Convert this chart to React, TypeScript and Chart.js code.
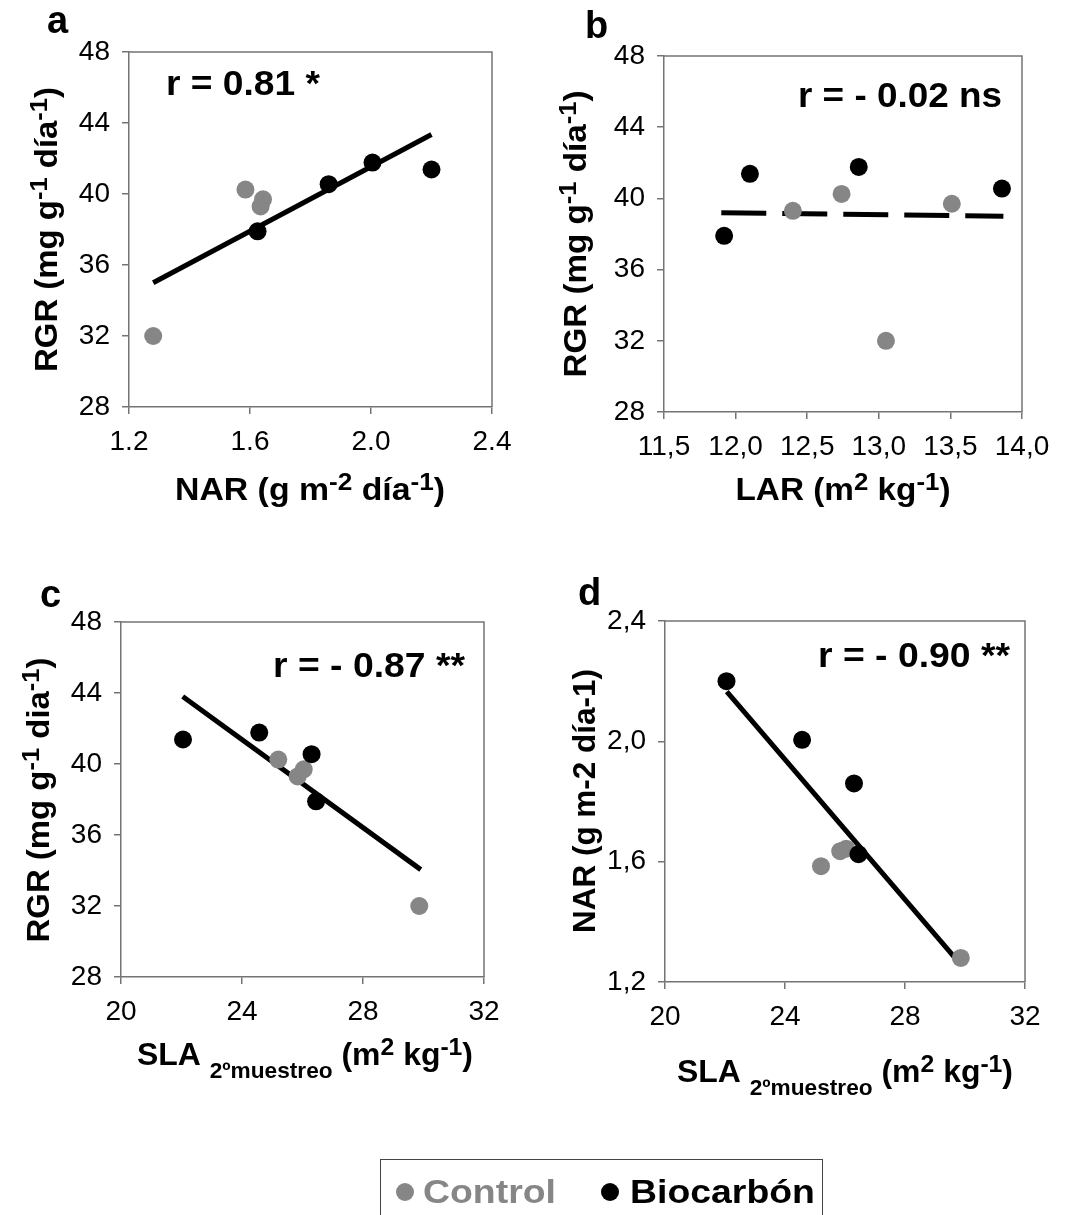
import React, { useEffect, useRef } from 'react';
import { Chart, registerables } from 'chart.js';

Chart.register(...registerables);

// ---------------- DATA ----------------
const seriesNames = ['Control', 'Biocarbón'];

// Control samples (same order in every array)
const ctrlRGR = [32.0, 40.25, 39.7, 39.3];
const ctrlNAR = [1.28, 1.585, 1.643, 1.635];
const ctrlLAR = [13.05, 12.74, 13.51, 12.4];
const ctrlSLA = [29.86, 25.2, 26.04, 25.84];

// Biocarbón samples (same order in every array)
const bioRGR = [37.9, 40.55, 41.77, 41.38];
const bioNAR = [1.625, 1.86, 2.005, 2.2];
const bioLAR = [11.92, 13.86, 12.86, 12.1];
const bioSLA = [26.45, 26.3, 24.57, 22.05];

// Fitted lines (end points)
const trendAx = [1.28, 2.2];
const trendAy = [35.0, 43.35];
const trendBx = [11.9, 13.87];
const trendBy = [39.2, 39.0];
const trendCx = [22.04, 29.91];
const trendCy = [43.8, 34.05];
const trendDx = [22.06, 29.86];
const trendDy = [2.165, 1.258];

// Tick values
const ticksRGR = [28, 32, 36, 40, 44, 48];
const ticksNARa = [1.2, 1.6, 2.0, 2.4];
const ticksLAR = [11.5, 12.0, 12.5, 13.0, 13.5, 14.0];
const ticksSLA = [20, 24, 28, 32];
const ticksNARd = [1.2, 1.6, 2.0, 2.4];

// Texts
const panelLetters = ['a', 'b', 'c', 'd'];
const corrNotes = ['r = 0.81 *', 'r = - 0.02 ns', 'r = - 0.87 **', 'r = - 0.90 **'];

type Kind = 'n' | 'sup' | 'sub';
type Seg = [string, Kind];

const titleRGR: Seg[] = [['RGR (mg g', 'n'], ['-1', 'sup'], [' día', 'n'], ['-1', 'sup'], [')', 'n']];
const titleRGRc: Seg[] = [['RGR (mg g', 'n'], ['-1', 'sup'], [' dia', 'n'], ['-1', 'sup'], [')', 'n']];
const titleNARa: Seg[] = [['NAR (g m', 'n'], ['-2', 'sup'], [' día', 'n'], ['-1', 'sup'], [')', 'n']];
const titleLAR: Seg[] = [['LAR (m', 'n'], ['2', 'sup'], [' kg', 'n'], ['-1', 'sup'], [')', 'n']];
const titleSLA: Seg[] = [['SLA ', 'n'], ['2ºmuestreo', 'sub'], [' (m', 'n'], ['2', 'sup'], [' kg', 'n'], ['-1', 'sup'], [')', 'n']];
const titleNARd: Seg[] = [['NAR (g m-2 día-1)', 'n']];

// ---------------- STYLE ----------------
const FONT = '"Liberation Sans", Arial, Helvetica, sans-serif';
const GRAY = '#868686';
const AXIS = '#747474';

const fmtDot = (v: number) => v.toFixed(1);
const fmtComma = (v: number) => v.toFixed(1).replace('.', ',');
const fmtInt = (v: number) => String(Math.round(v));

function drawRich(
  ctx: CanvasRenderingContext2D,
  segs: Seg[],
  x: number,
  y: number,
  o: { size: number; width?: number; align?: 'left' | 'center'; rotate?: boolean; color?: string }
) {
  const size = o.size;
  const items = segs.map(([t, k]) => {
    const fs = k === 'n' ? size : Math.round(size * (k === 'sup' ? 0.77 : 0.7));
    const dy = k === 'sup' ? -size * 0.32 : k === 'sub' ? size * 0.42 : 0;
    ctx.font = `bold ${fs}px ${FONT}`;
    return { t, fs, dy, w: ctx.measureText(t).width };
  });
  const natural = items.reduce((s, it) => s + it.w, 0);
  const sx = o.width ? o.width / natural : 1;
  ctx.save();
  ctx.translate(x, y);
  if (o.rotate) ctx.rotate(-Math.PI / 2);
  ctx.scale(sx, 1);
  ctx.fillStyle = o.color || '#000';
  ctx.textAlign = 'left';
  ctx.textBaseline = 'alphabetic';
  let cx = o.align === 'center' ? -natural / 2 : 0;
  for (const it of items) {
    ctx.font = `bold ${it.fs}px ${FONT}`;
    ctx.fillText(it.t, cx, it.dy);
    cx += it.w;
  }
  ctx.restore();
}

interface PanelDef {
  id: string;
  ox: number;
  oy: number;
  w: number;
  h: number;
  area: { l: number; t: number; r: number; b: number };
  xTicks: number[];
  yTicks: number[];
  xFmt: (v: number) => string;
  yFmt: (v: number) => string;
  cX: number[];
  cY: number[];
  bX: number[];
  bY: number[];
  tX: number[];
  tY: number[];
  dashed: boolean;
  letter: string;
  letterPos: [number, number];
  note: string;
  notePos: [number, number, number];
  xTitle: Seg[];
  xTitlePos: [number, number, number];
  yTitle: Seg[];
  yTitlePos: [number, number, number];
}

const PANELS: PanelDef[] = [
  {
    id: 'a', ox: 0, oy: 0, w: 533, h: 560,
    area: { l: 129, t: 52, r: 492, b: 407 },
    xTicks: ticksNARa, yTicks: ticksRGR, xFmt: fmtDot, yFmt: fmtInt,
    cX: ctrlNAR, cY: ctrlRGR, bX: bioNAR, bY: bioRGR, tX: trendAx, tY: trendAy, dashed: false,
    letter: panelLetters[0], letterPos: [47, 33],
    note: corrNotes[0], notePos: [166, 95, 154],
    xTitle: titleNARa, xTitlePos: [310, 500, 270],
    yTitle: titleRGR, yTitlePos: [57, 229.5, 285],
  },
  {
    id: 'b', ox: 533, oy: 0, w: 533, h: 560,
    area: { l: 664, t: 56, r: 1022, b: 412 },
    xTicks: ticksLAR, yTicks: ticksRGR, xFmt: fmtComma, yFmt: fmtInt,
    cX: ctrlLAR, cY: ctrlRGR, bX: bioLAR, bY: bioRGR, tX: trendBx, tY: trendBy, dashed: true,
    letter: panelLetters[1], letterPos: [585, 38],
    note: corrNotes[1], notePos: [798, 107, 204],
    xTitle: titleLAR, xTitlePos: [843, 500, 215],
    yTitle: titleRGR, yTitlePos: [586, 234, 287],
  },
  {
    id: 'c', ox: 0, oy: 560, w: 533, h: 655,
    area: { l: 121, t: 622, r: 484, b: 977 },
    xTicks: ticksSLA, yTicks: ticksRGR, xFmt: fmtInt, yFmt: fmtInt,
    cX: ctrlSLA, cY: ctrlRGR, bX: bioSLA, bY: bioRGR, tX: trendCx, tY: trendCy, dashed: false,
    letter: panelLetters[2], letterPos: [40, 607],
    note: corrNotes[2], notePos: [273, 677, 192],
    xTitle: titleSLA, xTitlePos: [305, 1065, 336],
    yTitle: titleRGRc, yTitlePos: [48.5, 800, 285],
  },
  {
    id: 'd', ox: 533, oy: 560, w: 533, h: 655,
    area: { l: 665, t: 621, r: 1025, b: 982 },
    xTicks: ticksSLA, yTicks: ticksNARd, xFmt: fmtInt, yFmt: fmtComma,
    cX: ctrlSLA, cY: ctrlNAR, bX: bioSLA, bY: bioNAR, tX: trendDx, tY: trendDy, dashed: false,
    letter: panelLetters[3], letterPos: [578, 605],
    note: corrNotes[3], notePos: [818, 667, 192],
    xTitle: titleSLA, xTitlePos: [845, 1082, 336],
    yTitle: titleNARd, yTitlePos: [595, 801, 264],
  },
];

function PanelChart({ def }: { def: PanelDef }) {
  const ref = useRef<HTMLCanvasElement>(null);
  useEffect(() => {
    const canvas = ref.current;
    if (!canvas) return;
    const { ox, oy, w, h, area } = def;
    const deco = {
      id: 'deco_' + def.id,
      beforeDatasetsDraw(chart: any) {
        const { ctx, chartArea: a } = chart;
        ctx.save();
        ctx.strokeStyle = AXIS;
        ctx.lineWidth = 1.5;
        ctx.beginPath();
        ctx.moveTo(a.left, a.top);
        ctx.lineTo(a.right, a.top);
        ctx.lineTo(a.right, a.bottom);
        ctx.stroke();
        ctx.restore();
      },
      afterDraw(chart: any) {
        const ctx = chart.ctx as CanvasRenderingContext2D;
        drawRich(ctx, [[def.letter, 'n']], def.letterPos[0] - ox, def.letterPos[1] - oy, { size: 38 });
        drawRich(ctx, [[def.note, 'n']], def.notePos[0] - ox, def.notePos[1] - oy, { size: 35, width: def.notePos[2] });
        drawRich(ctx, def.xTitle, def.xTitlePos[0] - ox, def.xTitlePos[1] - oy, {
          size: 31, width: def.xTitlePos[2], align: 'center',
        });
        drawRich(ctx, def.yTitle, def.yTitlePos[0] - ox, def.yTitlePos[1] - oy, {
          size: 31, width: def.yTitlePos[2], align: 'center', rotate: true,
        });
      },
    };
    const tickFont = { family: FONT, size: 28 };
    const chart = new Chart(canvas, {
      type: 'scatter',
      data: {
        datasets: [
          {
            label: seriesNames[1],
            data: def.bX.map((x, i) => ({ x, y: def.bY[i] })),
            backgroundColor: '#000',
            borderWidth: 0,
            pointRadius: 9,
            pointHoverRadius: 9,
            order: 0,
          },
          {
            label: seriesNames[0],
            data: def.cX.map((x, i) => ({ x, y: def.cY[i] })),
            backgroundColor: GRAY,
            borderWidth: 0,
            pointRadius: 9,
            pointHoverRadius: 9,
            order: 1,
          },
          {
            label: 'trend',
            data: def.tX.map((x, i) => ({ x, y: def.tY[i] })),
            showLine: true,
            borderColor: '#000',
            backgroundColor: '#000',
            borderWidth: 5,
            borderDash: def.dashed ? [45, 16] : [],
            borderCapStyle: 'butt',
            pointRadius: 0,
            pointHoverRadius: 0,
            order: 2,
          } as any,
        ],
      },
      options: {
        responsive: false,
        animation: false,
        devicePixelRatio: 1,
        events: [],
        layout: { padding: { left: 0, top: area.t - oy, right: w - (area.r - ox), bottom: 0 } },
        plugins: { legend: { display: false }, tooltip: { enabled: false } },
        scales: {
          x: {
            type: 'linear',
            position: 'bottom',
            min: def.xTicks[0],
            max: def.xTicks[def.xTicks.length - 1],
            afterBuildTicks: (s: any) => {
              s.ticks = def.xTicks.map((v) => ({ value: v }));
            },
            afterFit: (s: any) => {
              s.height = h - (area.b - oy);
            },
            ticks: {
              font: tickFont,
              color: '#000',
              padding: 11,
              maxRotation: 0,
              autoSkip: false,
              callback: (v: any) => def.xFmt(Number(v)),
            },
            grid: { drawOnChartArea: false, drawTicks: true, tickLength: 7, color: AXIS, lineWidth: 1.5 },
            border: { display: true, color: AXIS, width: 1.5 },
          },
          y: {
            type: 'linear',
            position: 'left',
            min: def.yTicks[0],
            max: def.yTicks[def.yTicks.length - 1],
            afterBuildTicks: (s: any) => {
              s.ticks = def.yTicks.map((v) => ({ value: v }));
            },
            afterFit: (s: any) => {
              s.width = area.l - ox;
            },
            ticks: {
              font: tickFont,
              color: '#000',
              padding: 12,
              autoSkip: false,
              callback: (v: any) => def.yFmt(Number(v)),
            },
            grid: { drawOnChartArea: false, drawTicks: true, tickLength: 7, color: AXIS, lineWidth: 1.5 },
            border: { display: true, color: AXIS, width: 1.5 },
          },
        },
      } as any,
      plugins: [deco],
    });
    return () => chart.destroy();
  }, [def]);
  return (
    <canvas
      ref={ref}
      width={def.w}
      height={def.h}
      style={{ position: 'absolute', left: def.ox, top: def.oy, width: def.w, height: def.h }}
    />
  );
}

function Legend() {
  const text: React.CSSProperties = {
    position: 'absolute',
    fontFamily: FONT,
    fontWeight: 'bold',
    fontSize: 34,
    lineHeight: '34px',
    whiteSpace: 'nowrap',
    transform: 'scaleX(1.1)',
    transformOrigin: 'left center',
  };
  const dot = (cx: number, cy: number, color: string): React.CSSProperties => ({
    position: 'absolute',
    left: cx - 9,
    top: cy - 9,
    width: 18,
    height: 18,
    borderRadius: '50%',
    background: color,
  });
  return (
    <>
      <div
        style={{
          position: 'absolute',
          left: 380,
          top: 1159,
          width: 443,
          height: 90,
          border: '1.5px solid #444',
          boxSizing: 'border-box',
        }}
      />
      <div style={dot(405, 1192, GRAY)} />
      <div style={{ ...text, left: 423, top: 1174, color: GRAY }}>{seriesNames[0]}</div>
      <div style={dot(610, 1192, '#000')} />
      <div style={{ ...text, left: 630, top: 1174, color: '#000' }}>{seriesNames[1]}</div>
    </>
  );
}

export default function App() {
  return (
    <div
      style={{
        position: 'fixed',
        left: 0,
        top: 0,
        width: 1066,
        height: 1215,
        overflow: 'hidden',
        background: '#fff',
      }}
    >
      {PANELS.map((p) => (
        <PanelChart key={p.id} def={p} />
      ))}
      <Legend />
    </div>
  );
}
